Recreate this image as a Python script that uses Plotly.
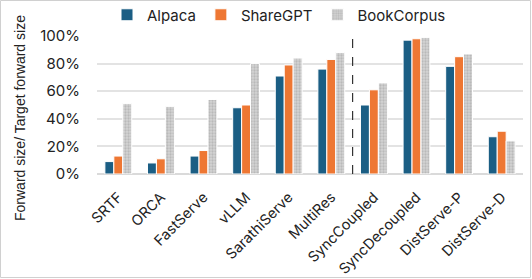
import plotly.graph_objects as go

categories = ["SRTF", "ORCA", "FastServe", "vLLM", "SarathiServe", "MultiRes",
              "SyncCoupled", "SyncDecoupled", "DistServe-P", "DistServe-D"]
alpaca = [0.09, 0.08, 0.13, 0.48, 0.71, 0.76, 0.50, 0.97, 0.78, 0.27]
sharegpt = [0.13, 0.11, 0.17, 0.50, 0.79, 0.83, 0.61, 0.98, 0.85, 0.31]
bookcorpus = [0.51, 0.49, 0.54, 0.80, 0.84, 0.88, 0.66, 0.99, 0.87, 0.24]
tick_vals = [0, 0.2, 0.4, 0.6, 0.8, 1.0]
tick_text = ["0%", "20%", "40%", "60%", "80%", "100%"]

W, H = 532, 279
ml, mr, mt, mb = 97, 9, 36, 105
pw, ph = W - ml - mr, H - mt - mb

fig = go.Figure()
fig.add_trace(go.Bar(name="Alpaca", x=categories, y=alpaca,
                     marker=dict(color="#1B5E84", line=dict(color="white", width=1))))
fig.add_trace(go.Bar(name="ShareGPT", x=categories, y=sharegpt,
                     marker=dict(color="#EE7733", line=dict(color="white", width=1))))
fig.add_trace(go.Bar(name="BookCorpus", x=categories, y=bookcorpus,
                     marker=dict(color="#D4D4D4", line=dict(color="white", width=1),
                                 pattern=dict(shape=".", fgcolor="#9E9E9E", size=3, solidity=0.45))))

fig.update_layout(
    width=W, height=H,
    margin=dict(l=ml, r=mr, t=mt, b=mb, autoexpand=False),
    paper_bgcolor="white", plot_bgcolor="white",
    font=dict(family="Inter, Roboto, sans-serif", size=14, color="#222222"),
    barmode="group", bargap=0.37, bargroupgap=0.0,
    legend=dict(orientation="h", x=(107 - ml) / pw, xanchor="left",
                yref="container", y=1 - 15 / H, yanchor="middle",
                font=dict(size=15), itemwidth=30, traceorder="normal",
                bgcolor="rgba(0,0,0,0)"),
    xaxis=dict(tickangle=-45, showline=False, ticks="", tickfont=dict(size=14.5),
               automargin=False, ticklabelstandoff=11),
    yaxis=dict(range=[0, 1.0], tickvals=tick_vals, ticktext=tick_text,
               showgrid=True, gridcolor="#E3E3E3", gridwidth=1.5, zeroline=True,
               zerolinecolor="#DADADA", zerolinewidth=1.5, tickfont=dict(size=15),
               automargin=False, ticklabelstandoff=16),
    annotations=[
        dict(text="Forward size/ Target forward size", xref="paper", yref="paper",
             x=-(ml - 20) / pw, y=1 + (mt - 118) / ph, textangle=-90, showarrow=False,
             xanchor="center", yanchor="middle",
             font=dict(size=14, family="Liberation Sans, Arial, sans-serif")),
    ],
    shapes=[
        dict(type="line", xref="x", yref="paper", x0=5.5, x1=5.5, y0=0, y1=1,
             line=dict(color="#333333", width=1.2, dash="dash")),
        dict(type="rect", xref="paper", yref="paper",
             x0=-(ml - 0.5) / pw, x1=1 + (mr - 1.5) / pw,
             y0=-(mb - 1.5) / ph, y1=1 + (mt - 0.5) / ph,
             line=dict(color="#D0D0D0", width=1)),
    ],
)

fig.write_html("out.html", config={"displayModeBar": False},
               post_script="document.body.style.margin='0';document.body.style.padding='0';")
